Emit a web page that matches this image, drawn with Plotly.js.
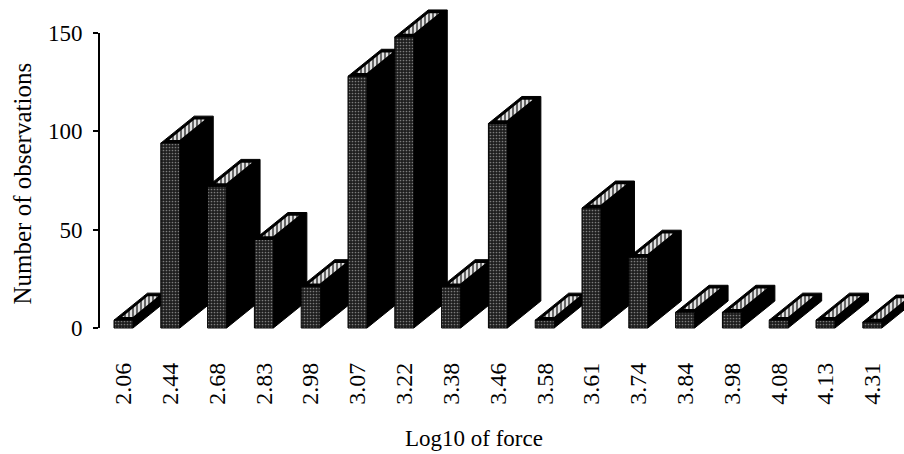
<!DOCTYPE html>
<html><head><meta charset="utf-8">
<script src="https://cdn.plot.ly/plotly-3.0.1.min.js"></script>
<style>html,body{margin:0;padding:0;background:#fff}#chart{width:904px;height:454px}</style>
</head><body><div id="chart"></div>
<script>
// ---- data ----
const categories = ['2.06','2.44','2.68','2.83','2.98','3.07','3.22','3.38','3.46','3.58','3.61','3.74','3.84','3.98','4.08','4.13','4.31'];
const counts = [4, 94, 72, 45, 21, 128, 148, 21, 104, 4, 61, 36, 8, 8, 4, 4, 3];
const yTickVals = [0, 50, 100, 150];
const xTitle = 'Log10 of force';
const yTitle = 'Number of observations';

// ---- styling / geometry ----
const FONT = 'Liberation Serif, Times New Roman, serif';
const FRONT_W = 0.406;   // bar front width (category units)
const DEPTH_X = 0.715;   // oblique depth offset (category units)
const DEPTH_Y = 13.73;   // oblique depth offset (value units)
const X_RANGE = [-0.5235, 16.677];
const Y_RANGE = [-1.525, 164.24];

const idx = categories.map((_, i) => i);
const traces = [];

idx.forEach(i => {
  const v = counts[i];
  const xl = i - FRONT_W / 2, xr = i + FRONT_W / 2;
  // side + top faces (black)
  traces.push({
    type: 'scatter', mode: 'lines', xaxis: 'x', yaxis: 'y',
    x: [xl, xl + DEPTH_X, xr + DEPTH_X, xr + DEPTH_X, xr, xr, xl],
    y: [v, v + DEPTH_Y, v + DEPTH_Y, DEPTH_Y, 0, v, v],
    fill: 'toself', fillcolor: '#000', line: {color: '#000', width: 1},
    hoverinfo: 'skip', showlegend: false
  });
  // light striped patch on the top face
  const P = (u, t) => [xl + u * FRONT_W + t * DEPTH_X, v + t * DEPTH_Y];
  const pts = [P(0.22, 0.12), P(0.78, 0.12), P(0.78, 0.88), P(0.22, 0.88), P(0.22, 0.12)];
  traces.push({
    type: 'scatter', mode: 'lines', xaxis: 'x', yaxis: 'y',
    x: pts.map(p => p[0]), y: pts.map(p => p[1]),
    fill: 'toself', fillcolor: '#d0d0d0', line: {color: '#000', width: 0},
    fillpattern: {shape: '|', fgcolor: '#333', bgcolor: '#e2e2e2', size: 4, solidity: 0.35},
    hoverinfo: 'skip', showlegend: false
  });
});

// front faces: the actual bars (overlay axes, drawn on top)
traces.push({
  type: 'bar', x: idx, y: counts, width: FRONT_W, xaxis: 'x2', yaxis: 'y2',
  marker: {
    color: '#262626',
    line: {color: '#000', width: 1},
    pattern: {shape: '.', fgcolor: '#7c7c7c', bgcolor: '#1e1e1e', size: 3, solidity: 0.25}
  },
  hoverinfo: 'x+y', showlegend: false
});

const layout = {
  width: 904, height: 454,
  margin: {l: 99, r: 0, t: 5, b: 123},
  paper_bgcolor: '#fff', plot_bgcolor: 'rgba(0,0,0,0)',
  showlegend: false,
  font: {family: FONT, color: '#000', size: 23},
  xaxis: {
    range: X_RANGE, tickmode: 'array', tickvals: idx, ticktext: categories,
    tickangle: -90, ticks: '', showline: false, showgrid: false, zeroline: false,
    tickfont: {family: FONT, size: 24, color: '#000'}, ticklabelstandoff: 26
  },
  xaxis2: {range: X_RANGE, overlaying: 'x', visible: false},
  yaxis: {
    range: Y_RANGE, tickmode: 'array', tickvals: yTickVals,
    ticks: 'outside', ticklen: 5, tickwidth: 2, tickcolor: '#000',
    showline: false, showgrid: false, zeroline: false,
    tickfont: {family: FONT, size: 23, color: '#000'}, ticklabelstandoff: 6
  },
  yaxis2: {range: Y_RANGE, overlaying: 'y', visible: false},
  shapes: [{type: 'line', xref: 'paper', x0: 0, x1: 0, yref: 'y', y0: 0, y1: 150,
            line: {color: '#000', width: 2}}],
  annotations: [
    {text: yTitle, xref: 'paper', yref: 'paper', x: (22.5 - 99) / 805, y: (331 - 184) / 326,
     xanchor: 'center', yanchor: 'middle', textangle: -90, showarrow: false,
     font: {family: FONT, size: 25, color: '#000'}},
    {text: xTitle, xref: 'paper', yref: 'paper', x: (474 - 99) / 805, y: (331 - 438) / 326,
     xanchor: 'center', yanchor: 'middle', showarrow: false,
     font: {family: FONT, size: 23, color: '#000'}}
  ]
};

Plotly.newPlot('chart', traces, layout, {displayModeBar: false, staticPlot: true});
</script>
</body></html>
